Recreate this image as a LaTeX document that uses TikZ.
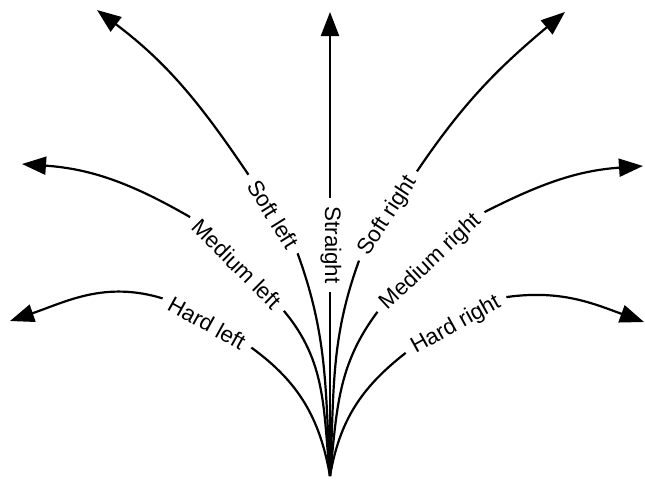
\documentclass[tikz,border=0pt]{standalone}
\usepackage{fontspec}
\setmainfont{Liberation Sans}
\usetikzlibrary{arrows.meta}
\begin{document}
\begin{tikzpicture}[x=0.5pt,y=0.5pt,
  lbl/.style={font=\fontsize{11.2}{13}\selectfont, inner sep=4pt},
  curve/.style={line width=1.1pt},
  arr/.style={curve, -{Triangle[length=12pt,width=9pt]}}]
\useasboundingbox (0,0) rectangle (645,479);
\coordinate (O) at (330,3);
\coordinate (hlT) at (10,158);
\coordinate (mlT) at (22,315);
\coordinate (slT) at (97,469);
\coordinate (stT) at (330,467);
\coordinate (srT) at (565,467);
\coordinate (mrT) at (643,313);
\coordinate (hrT) at (644,157);
% labels
\node[lbl,rotate=-29] (hl) at (207,156) {Hard left};
\node[lbl,rotate=-45] (ml) at (237,215) {Medium left};
\node[lbl,rotate=-58] (sl) at (273,265) {Soft left};
\node[lbl,rotate=-90] (st) at (331,234) {Straight};
\node[lbl,rotate=57] (sr) at (388,263) {Soft right};
\node[lbl,rotate=43] (mr) at (431,217) {Medium right};
\node[lbl,rotate=29] (hr) at (456,154) {Hard right};
% hard left
\draw[curve] (O) to[out=100,in=-36] (hl.east);
\draw[arr] (hl.west) to[out=163,in=19] (hlT);
% medium left
\draw[curve] (O) to[out=96,in=-50] (ml.east);
\draw[arr] (ml.west) to[out=150,in=-4] (mlT);
% soft left
\draw[curve] (O) to[out=93,in=-70] (sl.east);
\draw[arr] (sl.west) to[out=124,in=-37] (slT);
% straight
\draw[curve] (O) -- (O |- st.east);
\draw[arr] (O |- st.west) -- (stT);
% soft right
\draw[curve] (O) to[out=87,in=-110] (sr.west);
\draw[arr] (sr.east) to[out=56,in=-140] (srT);
% medium right
\draw[curve] (O) to[out=84,in=-127] (mr.west);
\draw[arr] (mr.east) to[out=27,in=-176] (mrT);
% hard right
\draw[curve] (O) to[out=80,in=-142] (hr.west);
\draw[arr] (hr.east) to[out=8,in=160] (hrT);
\end{tikzpicture}
\end{document}
